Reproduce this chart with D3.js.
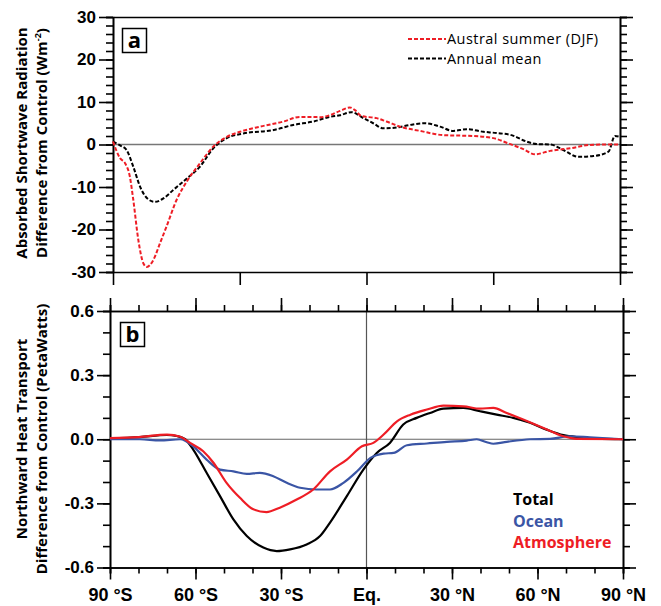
<!DOCTYPE html>
<html>
<head>
<meta charset="utf-8">
<script src="https://cdn.jsdelivr.net/npm/d3@7"></script>
<style>
	body { margin: 0; background: #fff; }
	svg { font-family: "Open Sans", sans-serif; }
	.axis path { stroke: #000; stroke-width: 1.6px; }
	.axis line { stroke: #000; stroke-width: 1.6px; }
	.axis text { font-weight: bold; font-size: 17px; fill: #000; }
</style>
</head>
<body>
<div id="chart"></div>
<script>
// panel a: absorbed shortwave difference (W m-2)
var djfLat = [-90,-87.5,-85.7,-84,-82.8,-81,-79.2,-78,-75.7,-73.3,-71,-67.4,-63.8,-59.1,-54.4,-49.6,-44.9,-37.8,-29.5,-23.6,-19,-16.5,-13,-9.4,-5.9,-4.1,-1.8,3.6,7.1,11.9,19,27.3,38,45,51,55.7,59.8,65.2,72.3,79.4,86.5,90];
var djf    = [0.7,-3.2,-4.4,-7.6,-13,-22.5,-28,-28.8,-27.2,-23.2,-19.3,-13,-8.7,-4.4,-0.5,1.8,3.0,4.2,5.4,6.5,6.5,6.4,6.9,7.9,8.7,8.1,6.7,6.2,5.4,4.2,3.2,2.2,2.0,1.5,0.1,-1.1,-2.3,-1.5,-0.9,-0.1,0,0];
var annLat = [-90,-87.5,-85.2,-82.8,-80.4,-77.5,-75.1,-72.1,-68.6,-63.8,-59.1,-54.4,-49.6,-43.7,-33,-26,-18.9,-13,-9.4,-5.3,-1.1,2.4,6,10.7,15.4,20.8,26.1,30.8,35.6,41.5,46.2,51.5,56.8,60.4,65.2,69.9,75.2,80.6,85.9,88.2,90];
var ann    = [0.7,-0.2,-1.3,-5.2,-9.9,-12.9,-13.5,-12.7,-10.7,-8.0,-5.2,-0.9,1.5,2.6,3.4,4.6,5.4,6.5,6.9,7.6,6.2,5.0,3.8,4.0,4.6,5.0,4.2,3.2,3.6,3.0,2.7,2.2,0.7,0.1,0,-1.3,-2.9,-2.7,-1.7,2.0,1.8];

// panel b: northward heat transport difference (PW)
var totLat = [-90,-79.5,-70.1,-66.6,-63.6,-60.8,-56.1,-51.4,-46.7,-42,-36.2,-31.5,-26.8,-21,-16.3,-12.8,-6.9,-1.1,3.6,8.2,12.9,17.6,22.3,27,34,39.8,45.7,51.5,57.4,63.2,69.1,74.9,80.8,90];
var tot    = [0.003,0.01,0.02,0.015,0,-0.048,-0.157,-0.266,-0.375,-0.453,-0.507,-0.523,-0.515,-0.492,-0.453,-0.39,-0.266,-0.142,-0.064,-0.017,0.069,0.1,0.123,0.143,0.147,0.131,0.115,0.1,0.077,0.045,0.019,0.009,0.003,0];
var atmLat = [-90,-80,-70,-65.3,-61.9,-57.3,-53.7,-49.1,-44.4,-39.7,-35.1,-30.4,-24.5,-18.7,-12.8,-6.9,-1.6,2.4,6,10.7,15.4,21.2,27,34,39.8,44.5,49.2,55,62.1,69.1,73.8,90];
var atm    = [0.005,0.01,0.022,0.012,-0.017,-0.056,-0.11,-0.204,-0.274,-0.328,-0.341,-0.32,-0.282,-0.235,-0.15,-0.095,-0.033,-0.017,0.022,0.084,0.115,0.139,0.157,0.154,0.143,0.147,0.123,0.092,0.053,0.014,0.002,0];
var ocnLat = [-90,-79.5,-72.5,-65.4,-60.8,-56.1,-51.4,-46.7,-42,-37.4,-32.7,-28,-23.3,-17.5,-12.8,-8.1,-3.3,1.4,6,9.5,14.2,21.2,28.2,35.2,38.7,42.2,44.5,49.2,57.4,64.4,71.4,78.4,90];
var ocn    = [0,0,-0.005,0,-0.033,-0.095,-0.142,-0.15,-0.162,-0.157,-0.173,-0.204,-0.227,-0.235,-0.235,-0.204,-0.15,-0.087,-0.067,-0.064,-0.028,-0.02,-0.012,-0.006,0,-0.014,-0.021,-0.012,0,0.002,0.014,0.009,0];

var latTicks = [-90,-60,-30,0,30,60,90];
var latLabels = ["90 °S","60 °S","30 °S","Eq.","30 °N","60 °N","90 °N"];
var aTicks = [-30,-20,-10,0,10,20,30];
var aLabels = ["-30","-20","-10","0","10","20","30"];
var bTicks = [-0.6,-0.3,0,0.3,0.6];
var bLabels = ["-0.6","-0.3","0.0","0.3","0.6"];

var red = "#ee1d25", blue = "#3a55a5";

function zip(lat, val) { return lat.map(function(d, i) { return [d, val[i]]; }); }

var svg = d3.select("#chart").append("svg")
	.attr("width", 661)
	.attr("height", 606);

// ---------- panel a ----------
var xa = d3.scaleLinear().domain([-90, 90]).range([113, 620]);
var ya = d3.scaleLinear().domain([-30, 30]).range([272, 17]);

var ga = svg.append("g");

ga.append("line")
	.attr("x1", xa(-90)).attr("x2", xa(90))
	.attr("y1", ya(0)).attr("y2", ya(0))
	.attr("stroke", "#777").attr("stroke-width", 1.3);

// minor ticks
ga.append("g").attr("class", "axis")
	.attr("transform", "translate(" + xa(-90) + ",0)")
	.call(d3.axisLeft(ya).tickValues(d3.range(-30, 31, 2)).tickSize(7).tickFormat(""));
ga.append("g").attr("class", "axis")
	.attr("transform", "translate(" + xa(90) + ",0)")
	.call(d3.axisRight(ya).tickValues(d3.range(-30, 31, 2)).tickSize(7).tickFormat(""));
// major ticks
ga.append("g").attr("class", "axis")
	.attr("transform", "translate(" + xa(-90) + ",0)")
	.call(d3.axisLeft(ya).tickValues(aTicks).tickSize(14).tickSizeOuter(0).tickPadding(3)
		.tickFormat(function(d, i) { return aLabels[i]; }));
ga.append("g").attr("class", "axis")
	.attr("transform", "translate(" + xa(90) + ",0)")
	.call(d3.axisRight(ya).tickValues(aTicks).tickSize(13).tickSizeOuter(0).tickFormat(""));
ga.append("g").attr("class", "axis")
	.attr("transform", "translate(0," + ya(-30) + ")")
	.call(d3.axisBottom(xa).tickValues([-90,-45,0,45,90]).tickSize(13).tickSizeOuter(0).tickFormat(""));
ga.append("g").attr("class", "axis")
	.attr("transform", "translate(0," + ya(30) + ")")
	.call(d3.axisTop(xa).tickValues([]).tickSizeOuter(0));

var lineA = d3.line()
	.x(function(d) { return xa(d[0]); })
	.y(function(d) { return ya(d[1]); })
	.curve(d3.curveMonotoneX);

ga.append("path")
	.datum(zip(annLat, ann))
	.attr("d", lineA)
	.attr("fill", "none").attr("stroke", "#000").attr("stroke-width", 2)
	.attr("stroke-dasharray", "4,2");
ga.append("path")
	.datum(zip(djfLat, djf))
	.attr("d", lineA)
	.attr("fill", "none").attr("stroke", red).attr("stroke-width", 2)
	.attr("stroke-dasharray", "4,2");

// legend a
var legA = [["Austral summer (DJF)", red], ["Annual mean", "#000"]];
var la = ga.selectAll(".lega").data(legA).enter().append("g")
	.attr("transform", function(d, i) { return "translate(408," + (39 + i * 19.5) + ")"; });
la.append("line")
	.attr("x1", 0).attr("x2", 38)
	.attr("stroke", function(d) { return d[1]; })
	.attr("stroke-width", 2).attr("stroke-dasharray", "4,2");
la.append("text")
	.attr("x", 39).attr("dy", "0.35em")
	.attr("font-size", 14.5)
	.attr("letter-spacing", 0.45)
	.text(function(d) { return d[0]; });

ga.append("rect")
	.attr("x", 122.5).attr("y", 28.5).attr("width", 24).attr("height", 24)
	.attr("fill", "#fff").attr("stroke", "#000").attr("stroke-width", 1.5);
ga.append("text")
	.attr("x", 134.5).attr("y", 47.5)
	.attr("text-anchor", "middle").attr("font-size", 22).attr("font-weight", "bold")
	.text("a");

var ta = ga.append("text")
	.attr("transform", "translate(0,143) rotate(-90)")
	.attr("text-anchor", "middle")
	.attr("font-weight", "bold").attr("font-size", 15);
ta.append("tspan").attr("x", 0).attr("y", 27).text("Absorbed Shortwave Radiation");
var t2 = ta.append("tspan").attr("x", 0).attr("y", 47);
t2.text("Difference from Control (Wm");
ta.append("tspan").attr("dy", -6).attr("font-size", 9).text("-2");
ta.append("tspan").attr("dy", 6).text(")");

// ---------- panel b ----------
var xb = d3.scaleLinear().domain([-90, 90]).range([110, 623]);
var yb = d3.scaleLinear().domain([-0.6, 0.6]).range([567.5, 311]);

var gb = svg.append("g");

gb.append("line")
	.attr("x1", xb(-90)).attr("x2", xb(90))
	.attr("y1", yb(0)).attr("y2", yb(0))
	.attr("stroke", "#666").attr("stroke-width", 1.2);
gb.append("line")
	.attr("x1", xb(0)).attr("x2", xb(0))
	.attr("y1", yb(-0.6)).attr("y2", yb(0.6))
	.attr("stroke", "#555").attr("stroke-width", 1.2);

var minorY = d3.range(-6, 7).map(function(d) { return d / 10; });
var minorX = d3.range(-90, 91, 10);

gb.append("g").attr("class", "axis")
	.attr("transform", "translate(" + xb(-90) + ",0)")
	.call(d3.axisLeft(yb).tickValues(minorY).tickSize(7).tickFormat(""));
gb.append("g").attr("class", "axis")
	.attr("transform", "translate(" + xb(90) + ",0)")
	.call(d3.axisRight(yb).tickValues(minorY).tickSize(7).tickFormat(""));
gb.append("g").attr("class", "axis")
	.attr("transform", "translate(0," + yb(-0.6) + ")")
	.call(d3.axisBottom(xb).tickValues(minorX).tickSize(6).tickFormat(""));
gb.append("g").attr("class", "axis")
	.attr("transform", "translate(0," + yb(0.6) + ")")
	.call(d3.axisTop(xb).tickValues(minorX).tickSize(6).tickFormat(""));

gb.append("g").attr("class", "axis")
	.attr("transform", "translate(" + xb(-90) + ",0)")
	.call(d3.axisLeft(yb).tickValues(bTicks).tickSize(13).tickSizeOuter(0).tickPadding(3)
		.tickFormat(function(d, i) { return bLabels[i]; }));
gb.append("g").attr("class", "axis")
	.attr("transform", "translate(" + xb(90) + ",0)")
	.call(d3.axisRight(yb).tickValues(bTicks).tickSize(13).tickSizeOuter(0).tickFormat(""));
gb.append("g").attr("class", "axis")
	.attr("transform", "translate(0," + yb(0.6) + ")")
	.call(d3.axisTop(xb).tickValues(latTicks).tickSize(13).tickSizeOuter(0).tickFormat(""));
gb.append("g").attr("class", "axis")
	.attr("transform", "translate(0," + yb(-0.6) + ")")
	.call(d3.axisBottom(xb).tickValues(latTicks).tickSize(12).tickSizeOuter(0).tickPadding(9)
		.tickFormat(function(d, i) { return latLabels[i]; }))
	.selectAll("text").style("font-size", "18px");

var lineB = d3.line()
	.x(function(d) { return xb(d[0]); })
	.y(function(d) { return yb(d[1]); })
	.curve(d3.curveMonotoneX);

var seriesB = [
	{name: "Total", color: "#000", data: zip(totLat, tot)},
	{name: "Ocean", color: blue, data: zip(ocnLat, ocn)},
	{name: "Atmosphere", color: red, data: zip(atmLat, atm)}
];

gb.selectAll(".sb").data(seriesB).enter().append("path")
	.attr("d", function(d) { return lineB(d.data); })
	.attr("fill", "none")
	.attr("stroke", function(d) { return d.color; })
	.attr("stroke-width", 2.2);

gb.selectAll(".legb").data(seriesB).enter().append("text")
	.attr("x", 513)
	.attr("y", function(d, i) { return 505 + i * 21.7; })
	.attr("fill", function(d) { return d.color; })
	.attr("font-size", 16).attr("font-weight", "bold")
	.text(function(d) { return d.name; });

gb.append("rect")
	.attr("x", 120.5).attr("y", 322.5).attr("width", 24).attr("height", 24)
	.attr("fill", "#fff").attr("stroke", "#000").attr("stroke-width", 1.5);
gb.append("text")
	.attr("x", 132.5).attr("y", 342)
	.attr("text-anchor", "middle").attr("font-size", 22).attr("font-weight", "bold")
	.text("b");

var tb = gb.append("text")
	.attr("transform", "translate(0,439) rotate(-90)")
	.attr("text-anchor", "middle")
	.attr("font-weight", "bold").attr("font-size", 15);
tb.append("tspan").attr("x", 0).attr("y", 27).text("Northward Heat Transport");
tb.append("tspan").attr("x", 0).attr("y", 47).text("Difference from Control (PetaWatts)");
</script>
</body>
</html>
